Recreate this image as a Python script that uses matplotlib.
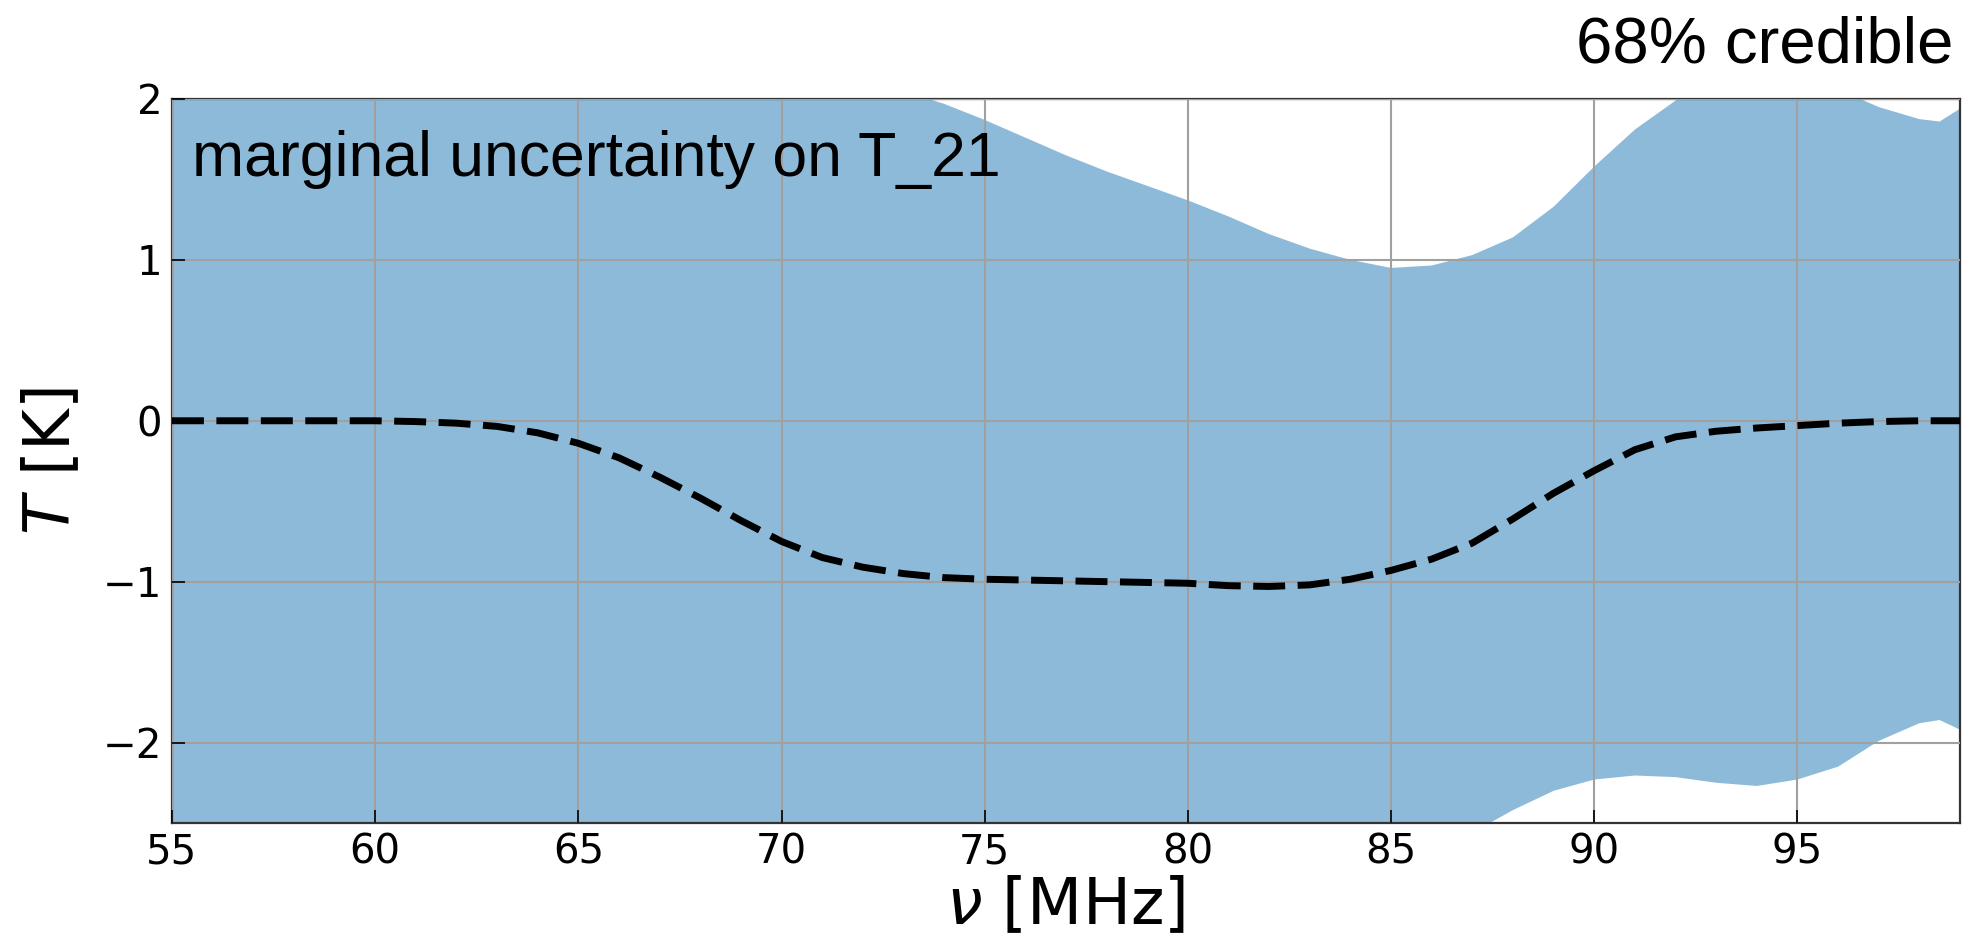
import matplotlib
matplotlib.use('Agg')
import matplotlib.pyplot as plt

# frequency grid [MHz]
freq = [55, 56, 57, 58, 59, 60, 61, 62, 63, 64, 65, 66, 67, 68, 69, 70,
        71, 72, 73, 74, 75, 76, 77, 78, 79, 80, 81, 82, 83, 84, 85, 86,
        87, 88, 89, 90, 91, 92, 93, 94, 95, 96, 97, 98, 98.5, 99]

# input / true T_21 signal [K]
t21_true = [0, 0, 0, 0, 0, 0, -0.005, -0.015, -0.035, -0.075, -0.14, -0.23,
            -0.35, -0.48, -0.62, -0.75, -0.85, -0.91, -0.95, -0.975, -0.985,
            -0.99, -0.995, -1.0, -1.005, -1.01, -1.025, -1.03, -1.02, -0.985,
            -0.93, -0.86, -0.76, -0.61, -0.45, -0.31, -0.18, -0.10, -0.065,
            -0.045, -0.03, -0.015, -0.005, 0, 0, 0]

# 68% credible band [K]
band_hi = [3.0, 3.0, 3.0, 3.0, 3.0, 2.95, 2.9, 2.85, 2.8, 2.75, 2.7, 2.6,
           2.5, 2.42, 2.35, 2.28, 2.2, 2.13, 2.05, 1.97, 1.87, 1.76, 1.65,
           1.55, 1.46, 1.37, 1.27, 1.16, 1.07, 1.0, 0.95, 0.965, 1.03, 1.14,
           1.33, 1.58, 1.81, 1.99, 2.15, 2.2, 2.15, 2.06, 1.95, 1.875, 1.86,
           1.94]
band_lo = [-3.2, -3.2, -3.2, -3.2, -3.2, -3.2, -3.2, -3.2, -3.2, -3.2, -3.15,
           -3.1, -3.05, -3.0, -3.0, -3.0, -3.0, -3.0, -3.0, -3.0, -3.0, -3.0,
           -3.0, -3.0, -2.95, -2.95, -2.9, -2.9, -2.85, -2.8, -2.75, -2.68,
           -2.56, -2.42, -2.30, -2.23, -2.205, -2.215, -2.25, -2.27, -2.23,
           -2.15, -1.99, -1.88, -1.86, -1.92]

fig = plt.figure(figsize=(19.72, 9.5), dpi=100)
ax = fig.add_axes([0.0872, 0.1337, 0.9067, 0.7621])

ax.fill_between(freq, band_lo, band_hi, color='#1f77b4', alpha=0.5,
                linewidth=0, zorder=1)
ax.grid(True, color='#a0a0a0', linewidth=1.5, zorder=2)
ax.set_axisbelow(False)
ax.plot(freq, t21_true, color='black', linestyle='--', linewidth=5,
        dashes=(4.6, 1.8), zorder=3)

ax.set_xlim(55, 99)
ax.set_ylim(-2.5, 2)
ax.set_xticks([55, 60, 65, 70, 75, 80, 85, 90, 95])
ax.set_yticks([-2, -1, 0, 1, 2])
ax.tick_params(direction='in', length=9.5, width=1.2, labelsize=29,
               pad=7, top=False, right=False)
for s in ax.spines.values():
    s.set_linewidth(1.6)
    s.set_color('#333333')

ax.set_xlabel(r'$\nu$ [MHz]', fontsize=46, labelpad=2)
ax.set_ylabel(r'$T$ [K]', fontsize=46, labelpad=14)

ax.text(0.011, 0.894, 'marginal uncertainty on T_21', transform=ax.transAxes,
        fontsize=45, family='Liberation Sans', ha='left', va='baseline')
fig.text(0.9904, 0.9337, '68% credible', fontsize=47,
         family='Liberation Sans', ha='right', va='baseline')

fig.savefig('out.png', dpi=100)
